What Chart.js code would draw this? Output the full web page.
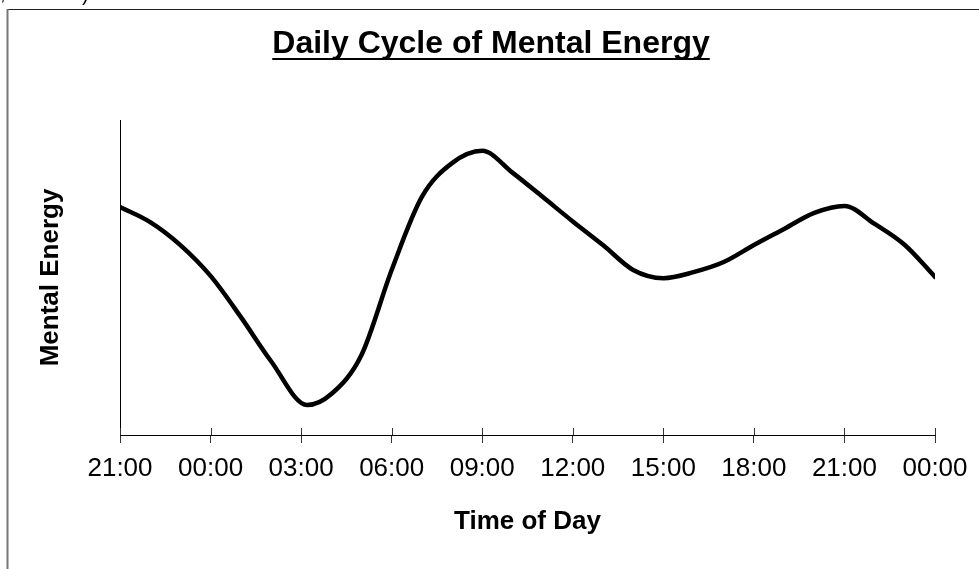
<!DOCTYPE html>
<html>
<head>
<meta charset="utf-8">
<script src="https://cdn.jsdelivr.net/npm/chart.js@4"></script>
<style>
  html, body { margin: 0; padding: 0; background: #fff; }
  #wrap { width: 979px; height: 569px; position: relative; }
</style>
</head>
<body>
<div id="wrap"><canvas id="chart"></canvas></div>
<script>
// hours since 21:00 of the first evening
const hours = [0, 1, 2, 3, 4, 5, 6.2, 7, 8, 9, 10, 11, 12, 13, 14, 15, 16, 17, 18, 19, 20, 21, 22, 23, 24, 25, 26, 27];
const energy = [72.4, 67.6, 60.3, 50.5, 37.5, 23.5, 9.5, 13.0, 25.4, 52.4, 75.6, 86.3, 90.2, 83.3, 75.6, 67.8, 60.3, 52.4, 49.8, 51.7, 54.9, 60.3, 65.4, 70.5, 72.7, 67.0, 60.3, 50.2];
const tickLabels = ['21:00', '00:00', '03:00', '06:00', '09:00', '12:00', '15:00', '18:00', '21:00', '00:00'];

const FONT = "'Liberation Sans', Arial, sans-serif";

const decor = {
  id: 'decor',
  beforeDraw(chart) {
    const ctx = chart.ctx;
    ctx.save();
    // clipped text remnants along the top edge
    ctx.fillStyle = '#000';
    ctx.font = '20px ' + FONT;
    ctx.textBaseline = 'alphabetic';
    ctx.fillText(',', 0, 0);
    ctx.fillText(')', 82, 1);
    // frame
    ctx.strokeStyle = '#222';
    ctx.lineWidth = 1;
    ctx.beginPath();
    ctx.moveTo(7, 9.5);
    ctx.lineTo(979, 9.5);
    ctx.stroke();
    ctx.strokeStyle = '#777';
    ctx.lineWidth = 2;
    ctx.beginPath();
    ctx.moveTo(7.5, 9);
    ctx.lineTo(7.5, 569);
    ctx.stroke();
    // title, underlined
    const title = 'Daily Cycle of Mental Energy';
    ctx.font = 'bold 32px ' + FONT;
    ctx.textAlign = 'center';
    ctx.textBaseline = 'alphabetic';
    const cx = 491, by = 53;
    ctx.fillText(title, cx, by);
    const w = ctx.measureText(title).width;
    ctx.fillRect(cx - w / 2, by + 5, w, 2);
    ctx.restore();
  },
  afterDraw(chart) {
    // tick marks crossing the x axis
    const x = chart.scales.x, ctx = chart.ctx;
    const y0 = chart.chartArea.bottom;
    ctx.save();
    ctx.strokeStyle = '#333';
    ctx.lineWidth = 1;
    x.ticks.forEach((t, i) => {
      const px = Math.round(x.getPixelForTick(i)) + 0.5;
      ctx.beginPath();
      ctx.moveTo(px, y0 - 7);
      ctx.lineTo(px, y0);
      ctx.stroke();
    });
    ctx.restore();
  }
};

new Chart(document.getElementById('chart'), {
  type: 'line',
  data: {
    datasets: [{
      data: hours.map((h, i) => ({ x: h, y: energy[i] })),
      borderColor: '#000',
      borderWidth: 4.5,
      pointRadius: 0,
      fill: false,
      cubicInterpolationMode: 'monotone',
      borderCapStyle: 'round',
      borderJoinStyle: 'round',
    }],
  },
  options: {
    responsive: true,
    maintainAspectRatio: false,
    animation: false,
    layout: { padding: { left: 0, top: 120, right: 44, bottom: 0 } },
    plugins: { legend: { display: false }, tooltip: { enabled: false }, title: { display: false } },
    scales: {
      x: {
        type: 'linear',
        min: 0,
        max: 27,
        afterBuildTicks: s => { s.ticks = tickLabels.map((_, i) => ({ value: i * 3 })); },
        afterFit: s => { s.height = 134; },
        ticks: {
          autoSkip: false,
          maxRotation: 0,
          padding: 10,
          color: '#000',
          font: { family: FONT, size: 26 },
          callback: (v, i) => tickLabels[i],
        },
        grid: { display: true, drawOnChartArea: false, drawTicks: true, tickLength: 8, color: '#333' },
        border: { display: true, color: '#000', width: 1 },
        title: {
          display: true,
          text: 'Time of Day',
          color: '#000',
          font: { family: FONT, size: 26, weight: 'bold' },
          padding: { top: 32, bottom: 32 },
        },
      },
      y: {
        min: 0,
        max: 100,
        afterFit: s => { s.width = 120; },
        ticks: { display: false },
        grid: { display: true, drawOnChartArea: false, drawTicks: false },
        border: { display: true, color: '#000', width: 1 },
        title: {
          display: true,
          text: 'Mental Energy',
          color: '#000',
          font: { family: FONT, size: 26, weight: 'bold' },
          padding: { top: 35, bottom: 0 },
        },
      },
    },
  },
  plugins: [decor],
});
</script>
</body>
</html>
